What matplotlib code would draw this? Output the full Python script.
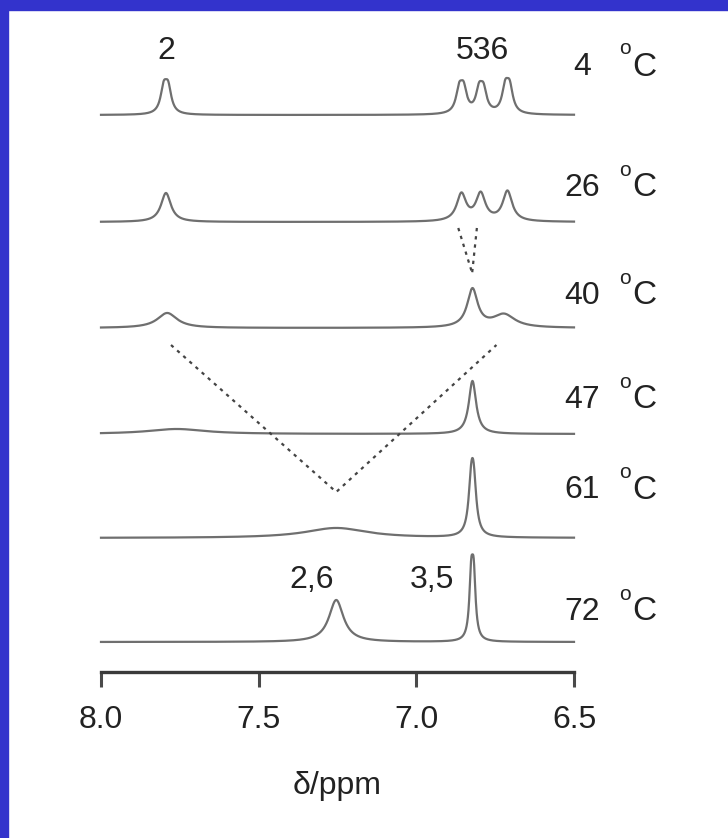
import matplotlib
matplotlib.use("Agg")
import matplotlib.pyplot as plt
from matplotlib.patches import Rectangle
import numpy as np

plt.rcParams['font.family'] = ['Liberation Sans', 'DejaVu Sans']

# temperatures (deg C), top to bottom
temps = [4, 26, 40, 47, 61, 72]

# resonance lines: (ppm, amplitude, half width in ppm)
lines_4 = [(7.801, 24, 0.012), (7.787, 24, 0.012),
           (6.864, 22, 0.012), (6.850, 22, 0.012),
           (6.801, 21, 0.012), (6.787, 21, 0.012),
           (6.718, 24, 0.012), (6.704, 24, 0.012)]
lines_26 = [(7.794, 29, 0.019),
            (6.857, 27, 0.018), (6.796, 27, 0.018), (6.711, 30, 0.018)]
lines_40 = [(7.790, 15, 0.038),
            (6.822, 38, 0.020), (6.722, 13, 0.042)]
lines_47 = [(7.760, 5, 0.110),
            (6.822, 53, 0.014)]
lines_61 = [(7.254, 10, 0.120),
            (6.826, 46, 0.010), (6.818, 46, 0.010)]
lines_72 = [(7.254, 42, 0.028),
            (6.826, 58, 0.007), (6.818, 58, 0.007)]
spectra = [lines_4, lines_26, lines_40, lines_47, lines_61, lines_72]

ppm = np.linspace(8.0, 6.5, 3000)


def spectrum(lines):
    y = np.zeros_like(ppm)
    for c, a, g in lines:
        y += a / (1 + ((ppm - c) / g) ** 2)
    return y


# figure: 728 x 838 px, y data measured in px above the axis line
fig = plt.figure(figsize=(7.28, 8.38), dpi=100)
W, H = 728, 838
ax = fig.add_axes([101 / W, (H - 672) / H, 473 / W, 652 / H])
ax.set_xlim(8.0, 6.5)
ax.set_ylim(0, 652)

offsets = [557, 450, 344, 238, 134, 30]
trace = '#6f6f6f'
for lines, off in zip(spectra, offsets):
    ax.plot(ppm, spectrum(lines) + off, color=trace, lw=1.6, clip_on=False)

# exchange guide lines (dotted)
guide = dict(color='#444444', lw=1.6, ls=(0, (1.5, 2.2)), clip_on=False)
ax.plot([7.778, 7.254, 6.746], [672 - 345, 672 - 492, 672 - 345], **guide)
ax.plot([6.867, 6.823], [672 - 228, 672 - 273], **guide)
ax.plot([6.808, 6.823], [672 - 228, 672 - 273], **guide)

# peak assignments
txt = dict(fontsize=23, color='#222222', ha='center', va='center')
ax.text(7.794, 672 - 51, '2', **txt)
ax.text(6.790, 672 - 51, '536', **txt)
ax.text(7.333, 672 - 580, '2,6', **txt)
ax.text(6.949, 672 - 580, '3,5', **txt)

# temperature labels
label_y = [67, 188, 296, 400, 490, 612]
for t, py in zip(temps, label_y):
    ax.text(6.473, 672 - py, str(t), **txt)
    ax.text(6.337, 672 - py + 18, 'o', fontsize=15, color='#222222',
            ha='center', va='center')
    ax.text(6.276, 672 - py, 'C', fontsize=24, color='#222222',
            ha='center', va='center')

for s in ['top', 'left', 'right']:
    ax.spines[s].set_visible(False)
ax.spines['bottom'].set_bounds(8.0, 6.5)
ax.spines['bottom'].set_linewidth(2.4)
ax.spines['bottom'].set_color('#3a3a3a')
ax.set_yticks([])
ax.set_xticks([8.0, 7.5, 7.0, 6.5])
ax.set_xticklabels(['8.0', '7.5', '7.0', '6.5'])
ax.tick_params(axis='x', direction='out', length=11, width=2.2,
               color='#4a4a4a', labelsize=23, labelcolor='#222222', pad=13)
ax.set_xlabel('δ/ppm', fontsize=23, color='#222222', labelpad=26)
ax.patch.set_alpha(0)

# blue frame at top and left
blue = '#3333cc'
fig.add_artist(Rectangle((0, 1 - 10 / H), 1, 10 / H, transform=fig.transFigure,
                         color=blue, zorder=10))
fig.add_artist(Rectangle((0, 0), 8 / W, 1, transform=fig.transFigure,
                         color=blue, zorder=10))

fig.savefig('out.png', dpi=100, facecolor='white')
